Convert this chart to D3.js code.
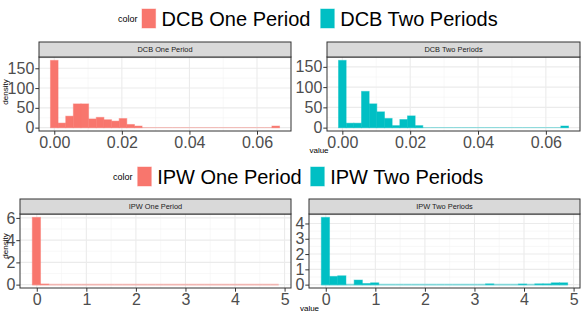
<!DOCTYPE html>
<html>
<head>
<meta charset="utf-8">
<script src="https://cdn.jsdelivr.net/npm/d3@7"></script>
<style>
  body { margin: 0; background: #fff; }
  svg { display: block; font-family: "Liberation Sans", Arial, sans-serif; }
</style>
</head>
<body>
<script>
// histogram bins (30 per panel), density per bin
var dcbBinStart = -0.00113, dcbBinWidth = 0.00226;
var ipwBinStart = -0.09, ipwBinWidth = 0.1657;

var dcbOne = [170, 11.5, 29, 60, 60, 22, 26, 20, 16.5, 23, 8, 4, 0, 0, 0,
  0, 0, 0, 0, 0, 0, 0, 0, 0, 0, 0, 0, 0, 0, 4];
var dcbTwo = [166, 11, 11, 89.5, 58.7, 39, 22.7, 5, 20, 29, 5, 0, 0, 0, 0,
  0, 0, 0, 0, 0, 0, 0, 0, 0, 0, 0, 0, 0, 0, 4];
var ipwOne = [6.05, 0.05, 0, 0, 0, 0, 0, 0, 0, 0, 0, 0, 0, 0, 0,
  0, 0, 0, 0, 0, 0, 0, 0, 0, 0, 0, 0, 0, 0, 0];
var ipwTwo = [4.4, 0.54, 0.58, 0, 0.3, 0.07, 0.12, 0, 0, 0, 0, 0, 0, 0, 0,
  0, 0, 0, 0, 0, 0.05, 0, 0, 0, 0.04, 0, 0.05, 0.05, 0.12, 0.12];

var dcbXTicks = [0, 0.02, 0.04, 0.06];
var ipwXTicks = [0, 1, 2, 3, 4, 5];
var dcbYTicks = [0, 50, 100, 150];
var ipwOneYTicks = [0, 2, 4, 6];
var ipwTwoYTicks = [0, 1, 2, 3, 4];

var red = '#F8766D';
var teal = '#00BFC4';

var svg = d3.select('body').append('svg')
  .attr('width', 584)
  .attr('height', 315);

var panels = [
  { title: 'DCB One Period', vals: dcbOne, start: dcbBinStart, w: dcbBinWidth, xt: dcbXTicks, yt: dcbYTicks,
    fmt: d3.format('.2f'), fill: red, x0: 39, x1: 291, y0: 57, y1: 131, zw: 1 },
  { title: 'DCB Two Periods', vals: dcbTwo, start: dcbBinStart, w: dcbBinWidth, xt: dcbXTicks, yt: dcbYTicks,
    fmt: d3.format('.2f'), fill: teal, x0: 327, x1: 580, y0: 57, y1: 131, zw: 1 },
  { title: 'IPW One Period', vals: ipwOne, start: ipwBinStart, w: ipwBinWidth, xt: ipwXTicks, yt: ipwOneYTicks,
    fmt: d3.format('d'), fill: red, x0: 20, x1: 291, y0: 214, y1: 288, zw: 1.8 },
  { title: 'IPW Two Periods', vals: ipwTwo, start: ipwBinStart, w: ipwBinWidth, xt: ipwXTicks, yt: ipwTwoYTicks,
    fmt: d3.format('d'), fill: teal, x0: 309, x1: 580, y0: 214, y1: 288, zw: 1.8 }
];

var minorOf = function(ticks, dom) {
  var step = ticks[1] - ticks[0], out = [];
  for (var v = ticks[0] - step / 2; v <= dom[1]; v += step) {
    if (v >= dom[0]) out.push(v);
  }
  return out;
};

panels.forEach(function(p) {
  var n = p.vals.length;
  var lo = p.start, hi = p.start + n * p.w;
  var xs = d3.scaleLinear().domain([lo - 0.05 * (hi - lo), hi + 0.05 * (hi - lo)]).range([p.x0, p.x1]);
  var ymax = d3.max(p.vals);
  var ys = d3.scaleLinear().domain([-0.05 * ymax, ymax * 1.05]).range([p.y1, p.y0]);
  var bins = p.vals.map(function(v, i) {
    return { v: v, a: p.start + i * p.w, b: p.start + (i + 1) * p.w };
  });

  var g = svg.append('g');

  // grid
  g.selectAll('.vmin').data(minorOf(p.xt, xs.domain())).enter().append('line')
    .attr('x1', xs).attr('x2', xs).attr('y1', p.y0).attr('y2', p.y1)
    .attr('stroke', '#f4f4f4').attr('stroke-width', 0.6);
  g.selectAll('.hmin').data(minorOf(p.yt, ys.domain())).enter().append('line')
    .attr('y1', ys).attr('y2', ys).attr('x1', p.x0).attr('x2', p.x1)
    .attr('stroke', '#f4f4f4').attr('stroke-width', 0.6);
  g.selectAll('.vmaj').data(p.xt).enter().append('line')
    .attr('x1', xs).attr('x2', xs).attr('y1', p.y0).attr('y2', p.y1)
    .attr('stroke', '#ebebeb').attr('stroke-width', 1.1);
  g.selectAll('.hmaj').data(p.yt).enter().append('line')
    .attr('y1', ys).attr('y2', ys).attr('x1', p.x0).attr('x2', p.x1)
    .attr('stroke', '#ebebeb').attr('stroke-width', 1.1);

  // outline along the baseline (shows for empty bins too)
  g.selectAll('.base').data(bins).enter().append('line')
    .attr('x1', function(d) { return xs(d.a); })
    .attr('x2', function(d) { return xs(d.b); })
    .attr('y1', ys(0)).attr('y2', ys(0))
    .attr('stroke', p.fill).attr('stroke-opacity', 0.45).attr('stroke-width', p.zw);

  // bars
  g.selectAll('.bar').data(bins.filter(function(d) { return d.v > 0; })).enter().append('rect')
    .attr('x', function(d) { return xs(d.a); })
    .attr('width', function(d) { return xs(d.b) - xs(d.a); })
    .attr('y', function(d) { return ys(d.v); })
    .attr('height', function(d) { return ys(0) - ys(d.v); })
    .attr('fill', p.fill)
    .attr('stroke', p.fill)
    .attr('stroke-opacity', 0.45)
    .attr('stroke-width', 1);

  // border
  g.append('rect').attr('x', p.x0).attr('y', p.y0).attr('width', p.x1 - p.x0).attr('height', p.y1 - p.y0)
    .attr('fill', 'none').attr('stroke', '#333').attr('stroke-width', 1);

  // strip
  g.append('rect').attr('x', p.x0).attr('y', p.y0 - 15).attr('width', p.x1 - p.x0).attr('height', 15)
    .attr('fill', '#d9d9d9').attr('stroke', '#333').attr('stroke-width', 1);
  g.append('text').attr('x', (p.x0 + p.x1) / 2).attr('y', p.y0 - 4.8)
    .attr('text-anchor', 'middle').attr('font-size', 7.4).attr('fill', '#1a1a1a').text(p.title);

  // axes
  var xa = g.append('g').attr('transform', 'translate(0,' + p.y1 + ')')
    .call(d3.axisBottom(xs).tickValues(p.xt).tickFormat(p.fmt).tickSize(3.7).tickSizeOuter(0).tickPadding(2));
  var ya = g.append('g').attr('transform', 'translate(' + p.x0 + ',0)')
    .call(d3.axisLeft(ys).tickValues(p.yt).tickFormat(d3.format('d')).tickSize(3.7).tickSizeOuter(0).tickPadding(1));
  [xa, ya].forEach(function(a) {
    a.select('.domain').remove();
    a.selectAll('line').attr('stroke', '#333');
    a.selectAll('text').attr('font-size', 16).attr('fill', '#4d4d4d')
      .attr('font-family', '"Liberation Sans", Arial, sans-serif');
  });
});

// axis titles
var axisTitles = [
  { t: 'density', x: 7.5, y: 92, rot: true },
  { t: 'value', x: 319, y: 153, rot: false },
  { t: 'density', x: 7.5, y: 246, rot: true },
  { t: 'value', x: 309.5, y: 311, rot: false }
];
axisTitles.forEach(function(a) {
  svg.append('text')
    .attr('transform', 'translate(' + a.x + ',' + a.y + ')' + (a.rot ? ' rotate(-90)' : ''))
    .attr('text-anchor', 'middle').attr('font-size', 8).attr('fill', '#000').text(a.t);
});

// legends
var legends = [
  { y: 9, tx: 118, items: [{ k: 142, t: 'DCB One Period', c: red }, { k: 320.7, t: 'DCB Two Periods', c: teal }] },
  { y: 167, tx: 113, items: [{ k: 137.7, t: 'IPW One Period', c: red }, { k: 310.7, t: 'IPW Two Periods', c: teal }] }
];
legends.forEach(function(l) {
  svg.append('text').attr('x', l.tx).attr('y', l.y + 12.5).attr('font-size', 9).attr('fill', '#000').text('color');
  l.items.forEach(function(it) {
    svg.append('rect').attr('x', it.k).attr('y', l.y).attr('width', 13.6).attr('height', 19)
      .attr('fill', it.c).attr('stroke', it.c).attr('stroke-opacity', 0.45).attr('stroke-width', 1);
    svg.append('text').attr('x', it.k + 19.5).attr('y', l.y + 17).attr('font-size', 20).attr('fill', '#000').text(it.t);
  });
});
</script>
</body>
</html>
